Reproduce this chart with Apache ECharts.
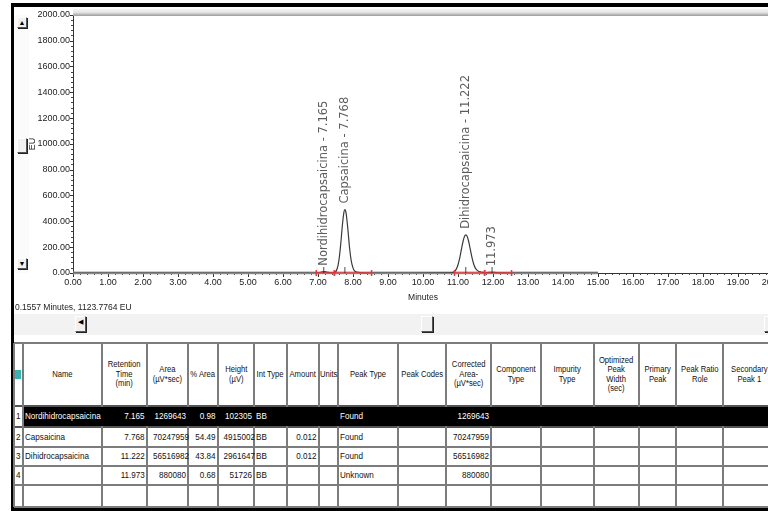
<!DOCTYPE html>
<html>
<head>
<meta charset="utf-8">
<script src="https://cdn.jsdelivr.net/npm/echarts@6/dist/echarts.min.js"></script>
<style>
  html, body { margin:0; padding:0; background:#fff; }
  body { width:768px; height:511px; position:relative; overflow:hidden; font-family:"Liberation Sans",Arial,sans-serif; }
  .abs { position:absolute; box-sizing:border-box; }
  .btn { position:absolute; box-sizing:border-box; background:#f0f0f0; border-top:1px solid #fff; border-left:1px solid #fff; border-right:1px solid #555; border-bottom:1px solid #555; box-shadow: 1px 1px 0 #222; font-size:7px; line-height:9px; text-align:center; color:#000; }
  .cell { position:absolute; box-sizing:border-box; font-size:8px; line-height:9px; color:#111; white-space:nowrap; overflow:visible; }
  .sq { display:inline-block; transform:scaleX(0.9); }
</style>
</head>
<body>
<div id="chart" class="abs" style="left:0;top:0;width:768px;height:300px;"></div>
<div id="ui"></div>
<script>
// ---------------- data ----------------
const peakNames   = ['Nordihidrocapsaicina', 'Capsaicina', 'Dihidrocapsaicina', ''];
const retTimes    = [7.165, 7.768, 11.222, 11.973];
const areas       = [1269643, 70247959, 56516982, 880080];
const pctArea     = [0.98, 54.49, 43.84, 0.68];
const heightsUV   = [102305, 4915002, 2961647, 51726];
const intTypes    = ['BB', 'BB', 'BB', 'BB'];
const amounts     = ['', '0.012', '0.012', ''];
const peakTypes   = ['Found', 'Found', 'Found', 'Unknown'];
const correctedAreas = [1269643, 70247959, 56516982, 880080];
const peakLabels  = ['Nordihidrocapsaicina - 7.165', 'Capsaicina - 7.768', 'Dihidrocapsaicina - 11.222', '11.973'];

// integration baselines (start / end, minutes)
const baseStarts = [6.95, 7.47, 10.90, 11.76];
const baseEnds   = [7.47, 8.53, 11.76, 12.53];

// chromatogram trace (minutes, EU)
const traceTimes = [0, 6.90, 6.95, 7.00, 7.05, 7.10, 7.165, 7.22, 7.28, 7.35, 7.42, 7.48, 7.55, 7.60, 7.65, 7.70, 7.74, 7.768, 7.80, 7.85, 7.90, 7.95, 8.00, 8.05, 8.10, 8.20, 8.30, 8.45,
                    10.80, 10.90, 10.95, 11.00, 11.05, 11.10, 11.15, 11.19, 11.222, 11.26, 11.30, 11.35, 11.40, 11.45, 11.50, 11.55, 11.60, 11.65, 11.70, 11.76, 11.85, 11.90, 11.973, 12.05, 12.10, 12.20, 12.30, 12.45, 15.0];
const traceValues = [0, 0, 0.4, 1.4, 3.9, 7.5, 10.2, 8.1, 4.3, 1.4, 0.8, 3, 35, 103, 227, 380, 470, 491.5, 468, 350, 200, 95, 40, 15, 8, 3, 1, 0,
                    1, 12, 30, 64, 118, 187, 252, 287, 296.2, 285, 250, 185, 120, 68, 36, 20, 12, 8, 5, 4, 3.6, 4.5, 5.2, 4.4, 3.2, 1.5, 0.6, 0, 0];
const traceEnd = 15.0;

// table layout data
const colEdges = [14, 23, 102, 147, 188, 218, 254, 287, 319, 338, 398, 446, 491, 541, 594, 639, 676, 723, 775];
const headers = ['', 'Name', 'Retention\nTime\n(min)', 'Area\n(µV*sec)', '% Area', 'Height\n(µV)', 'Int Type', 'Amount', 'Units', 'Peak Type', 'Peak Codes', 'Corrected\nArea-\n(µV*sec)', 'Component\nType', 'Impurity\nType', 'Optimized\nPeak\nWidth\n(sec)', 'Primary\nPeak', 'Peak Ratio\nRole', 'Secondary\nPeak 1'];
const colAlign = ['left', 'left', 'right', 'right', 'right', 'right', 'left', 'right', 'left', 'left', 'left', 'right', 'left', 'left', 'left', 'left', 'left', 'left'];
const rowEdges = [343, 406, 427, 447, 466, 485, 507];

// ---------------- chart ----------------
const FONT = '"Liberation Sans",Arial,sans-serif';
const chart = echarts.init(document.getElementById('chart'), null, { renderer: 'canvas' });

const traceData = traceTimes.map((t, i) => [t, traceValues[i]]);
const baseSeries = baseStarts.map((s, i) => ({
  type: 'line', data: [[s, 0], [baseEnds[i], 0]], symbol: 'rect', symbolSize: [1.5, 6], showSymbol: true,
  lineStyle: { color: '#e8383d', width: 1.6 }, itemStyle: { color: '#e8383d' }, z: 4, silent: true
}));

chart.setOption({
  animation: false,
  grid: { left: 73, top: 15, width: 700, height: 258, outerBoundsMode: 'none', containLabel: false },
  xAxis: {
    type: 'value', min: 0, max: 20, interval: 1,
    axisLine: { show: true, onZero: false, lineStyle: { color: '#333', width: 1 } },
    axisTick: { show: true, length: 4, lineStyle: { color: '#333' } },
    minorTick: { show: true, splitNumber: 5, length: 2, lineStyle: { color: '#444' } },
    splitLine: { show: false },
    axisLabel: { formatter: v => v.toFixed(2), fontSize: 9, color: '#222', margin: 5, fontFamily: FONT, showMaxLabel: true, hideOverlap: false },
    name: 'Minutes', nameLocation: 'middle', nameGap: 20, nameMoveOverlap: false,
    nameTextStyle: { fontSize: 8.5, color: '#222', fontFamily: FONT }
  },
  yAxis: {
    type: 'value', min: 0, max: 2000, interval: 200,
    axisLine: { show: true, lineStyle: { color: '#333', width: 1 } },
    axisTick: { show: true, length: 3, lineStyle: { color: '#333' } },
    minorTick: { show: true, splitNumber: 5, length: 2, lineStyle: { color: '#444' } },
    splitLine: { show: false },
    axisLabel: { formatter: v => v.toFixed(2), fontSize: 9, color: '#222', margin: 3, fontFamily: FONT },
    name: 'EU', nameLocation: 'middle', nameGap: 36, nameRotate: 90, nameMoveOverlap: false,
    nameTextStyle: { fontSize: 9, color: '#222', fontFamily: FONT }
  },
  series: [
    {
      type: 'line', data: [[0, 0], [traceEnd, 0]], showSymbol: false, symbol: 'none',
      lineStyle: { color: '#a0a0a0', width: 3 }, z: 1, silent: true
    },
    {
      type: 'line', data: traceData, showSymbol: false, symbol: 'none', smooth: 0.3,
      lineStyle: { color: '#3a3a3a', width: 1.2 }, z: 3, silent: true
    },
    ...baseSeries,
    {
      type: 'scatter', symbol: 'rect', symbolSize: [1, 6], symbolOffset: [0, -3],
      itemStyle: { color: '#222' }, z: 5, silent: true,
      data: retTimes.map((t) => [t, 0]),
    },
    {
      type: 'scatter', symbolSize: 0, z: 6, silent: true,
      data: retTimes.map((t, i) => ({ value: [t, heightsUV[i] / 10000], label: { formatter: peakLabels[i] } })),
      label: {
        show: true, position: 'top', distance: 6, rotate: 90, align: 'left', verticalAlign: 'middle',
        fontSize: 11.5, color: '#333', fontFamily: '"DejaVu Sans",Verdana,sans-serif'
      }
    }
  ]
});

// ---------------- window chrome + table ----------------
const ui = document.getElementById('ui');
function box(x, y, w, h, style, cls) {
  const d = document.createElement('div');
  d.className = cls || 'abs';
  d.style.left = x + 'px'; d.style.top = y + 'px'; d.style.width = w + 'px'; d.style.height = h + 'px';
  Object.assign(d.style, style || {});
  ui.appendChild(d);
  return d;
}
function squeezed(d, txt, origin) {
  const s = document.createElement('span');
  s.className = 'sq';
  s.style.transformOrigin = origin;
  s.textContent = txt;
  d.appendChild(s);
}
// top frame line of plot
box(73, 9, 700, 7, { background: 'linear-gradient(#f6f6f6,#e2e2e2 50%,#9a9a9a)' });
// outer black frame
box(11, 3, 757, 4, { background: '#000' });
box(11, 3, 3, 508, { background: '#000' });
box(11, 507, 757, 4, { background: '#000' });

// left vertical scrollbar
box(14, 15, 15, 258, { background: '#fbfbfb' });
box(17, 17, 10, 11, {}, 'btn').textContent = '▲';
box(17, 138, 10, 15, {}, 'btn');
box(17, 258, 10, 11, {}, 'btn').textContent = '▼';

// status text
box(15, 302, 200, 10, { fontSize: '8.5px', lineHeight: '10px', color: '#222', whiteSpace: 'nowrap' }).textContent = '0.1557 Minutes, 1123.7764 EU';

// horizontal scrollbar
box(14, 314, 754, 21, { background: '#f2f2f2' });
box(75, 316, 11, 16, {}, 'btn').textContent = '◀';
box(421, 316, 12, 16, {}, 'btn');
box(764, 316, 8, 16, {}, 'btn');
box(14, 337, 754, 6, { background: '#fff' });

// table background
box(14, rowEdges[0], 754, rowEdges[rowEdges.length - 1] - rowEdges[0], { background: '#fff' });

// grid lines
const lineColor = '#7c7c7c';
rowEdges.forEach((y, i) => {
  box(14, y - 1, 754, 2, { background: (i === 1 || i === 2) ? '#555' : lineColor });
});
colEdges.forEach(x => {
  box(x - 1, rowEdges[0], 2, rowEdges[rowEdges.length - 1] - rowEdges[0], { background: lineColor });
});
// highlighted first row
box(colEdges[1] + 1, rowEdges[1] + 1, 768 - colEdges[1], rowEdges[2] - rowEdges[1] - 2, { background: '#000' });

// header teal icon
box(15, 370, 6, 9, { background: '#37b3b0' });

// header texts
headers.forEach((h, c) => {
  if (!h) return;
  const x0 = colEdges[c], x1 = colEdges[c + 1];
  const d = box(x0 + 1, rowEdges[0] + 1, x1 - x0 - 2, rowEdges[1] - rowEdges[0] - 2,
    { display: 'flex', alignItems: 'center', justifyContent: 'center', textAlign: 'center', whiteSpace: 'pre', fontSize: '8.5px', lineHeight: '9.5px', color: '#111' }, 'cell');
  squeezed(d, h, 'center center');
});

// body rows
const rows = peakNames.map((n, i) => [
  String(i + 1), n, retTimes[i].toFixed(3), String(areas[i]), pctArea[i].toFixed(2), String(heightsUV[i]),
  intTypes[i], amounts[i], '', peakTypes[i], '', String(correctedAreas[i]), '', '', '', '', '', ''
]);
rows.forEach((r, ri) => {
  const y0 = rowEdges[ri + 1], y1 = rowEdges[ri + 2];
  r.forEach((txt, c) => {
    if (!txt) return;
    const x0 = colEdges[c], x1 = colEdges[c + 1];
    const white = ri === 0 && c > 0;
    const d = box(x0 + 2, y0 + 1, x1 - x0 - 4, y1 - y0 - 2,
      { textAlign: colAlign[c], lineHeight: (y1 - y0 - 2) + 'px', fontSize: '9px', color: white ? '#fff' : '#111' }, 'cell');
    squeezed(d, txt, colAlign[c] === 'right' ? 'right center' : 'left center');
  });
});
</script>
</body>
</html>
